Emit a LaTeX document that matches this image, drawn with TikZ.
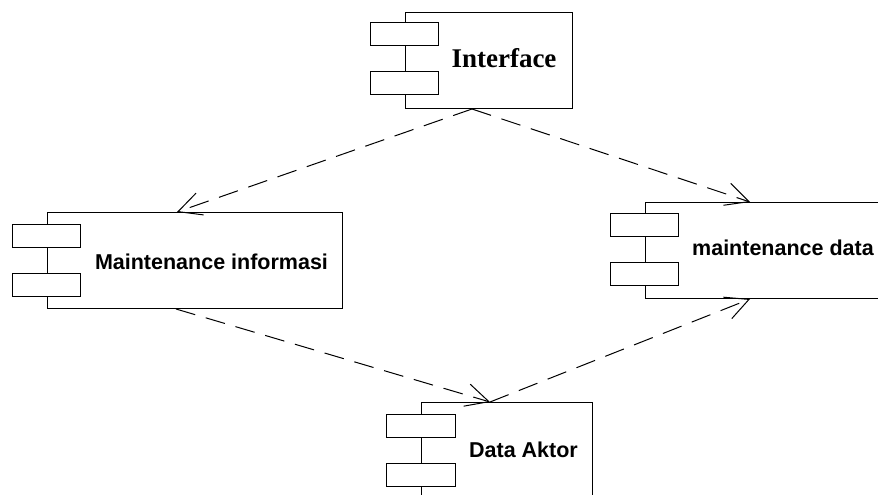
\documentclass[tikz,border=0pt]{standalone}
\usepackage{fontspec}
\setmainfont{Liberation Sans}
\newfontfamily\serifbold{Liberation Serif}
\usetikzlibrary{arrows.meta,calc}
\begin{document}
\begin{tikzpicture}[x=1pt,y=-1pt,
  compbox/.style={draw=black, line width=1pt, fill=white, minimum height=96pt, inner sep=0pt, anchor=north west},
  port/.style={draw=black, line width=1pt, fill=white, minimum width=68.5pt, minimum height=23pt, inner sep=0pt},
  lbl/.style={font=\bfseries\fontsize{21.5}{24}\selectfont, inner sep=0pt},
  dep/.style={draw=black, line width=1pt, dash pattern=on 20pt off 11pt, -{Straight Barb[length=23pt, width=23pt]}}
]
\useasboundingbox (0,0) rectangle (878,495);
\clip (0,0) rectangle (878,495);
\fill[white] (0,0) rectangle (878,495);

% Interface
\node[compbox, minimum width=167pt] (intf) at (405,12) {};
\node[port] (intfpa) at (404.5,34.5) {};
\node[port] (intfpb) at (404.5,83) {};
\node[inner sep=0pt, font=\serifbold\bfseries\fontsize{27}{30}\selectfont] (intft) at (504,58) {Interface};

% Maintenance informasi
\node[compbox, minimum width=295pt] (mi) at (47,212) {};
\node[port] (mipa) at (46.5,236) {};
\node[port] (mipb) at (46.5,285) {};
\node[lbl] (mit) at (211.5,262) {Maintenance informasi};

% maintenance data
\node[compbox, minimum width=260pt] (md) at (645,202) {};
\node[port] (mdpa) at (644.5,225) {};
\node[port] (mdpb) at (644.5,274) {};
\node[lbl] (mdt) at (783,248) {maintenance data};

% Data Aktor
\node[compbox, minimum width=171pt] (da) at (421,402) {};
\node[port] (dapa) at (421,426) {};
\node[port] (dapb) at (421,475) {};
\node[lbl] (dat) at (523.5,450) {Data Aktor};

% attachment points
\coordinate (intfS) at ($(intf.south west)+(67,0)$);
\coordinate (miN) at ($(mi.north west)+(130,0)$);
\coordinate (miS) at ($(mi.south west)+(129,0)$);
\coordinate (mdN) at ($(md.north west)+(105,0)$);
\coordinate (mdS) at ($(md.south west)+(105,0)$);
\coordinate (daN) at ($(da.north west)+(69,0)$);

\draw[dep] (intfS) -- (miN);
\draw[dep] (intfS) -- (mdN);
\draw[dep] (miS) -- (daN);
\draw[dep] (daN) -- (mdS);
\end{tikzpicture}
\end{document}
